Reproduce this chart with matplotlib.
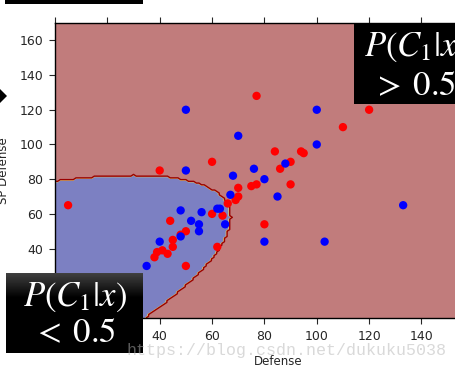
import numpy as np
import matplotlib
matplotlib.use("Agg")
import matplotlib.pyplot as plt
from matplotlib.patches import Rectangle, Polygon

plt.rcParams['mathtext.fontset'] = 'stix'

# ---- data (Defense, SP Defense) ----
red_def = [5, 40, 60, 77, 120, 110, 84, 94, 95, 90, 86, 90, 70, 75, 77, 70, 69, 66,
           60, 64, 62, 80, 44, 50, 48, 45, 45, 41, 43, 39, 38, 50]
red_spdef = [65, 85, 90, 128, 120, 110, 96, 96, 95, 90, 86, 77, 75, 76, 77, 70, 68, 66,
             60, 59, 41, 54, 56, 50, 48, 45, 41, 39, 37, 38, 35, 30]
blue_def = [50, 70, 100, 100, 50, 68, 76, 88, 80, 85, 67, 63, 62, 56, 48, 52, 55, 55,
            65, 48, 40, 35, 133, 80, 103]
blue_spdef = [120, 105, 120, 100, 85, 82, 86, 89, 80, 70, 71, 63, 63, 61, 62, 56, 54, 50,
              54, 47, 44, 30, 65, 44, 44]

# quadratic decision boundary parameters (P(C1|x) = 0.5)
bnd_center = (-118.0, -38.0)
bnd_scale = (185.0, 120.0)
bnd_corr = 0.8

xticks = [0, 20, 40, 60, 80, 100, 120, 140, 160]
yticks = [0, 20, 40, 60, 80, 100, 120, 140, 160]

W, H = 456, 371
def fx(x):
    return x / W
def fy(y):
    return 1 - y / H

fig = plt.figure(figsize=(W / 100, H / 100), dpi=100)
ax = fig.add_axes([fx(55), fy(318), 445 / W, 295 / H])

xx, yy = np.meshgrid(np.arange(0, 171, 1.0), np.arange(0, 171, 1.0))
u = (xx - bnd_center[0]) / bnd_scale[0]
v = (yy - bnd_center[1]) / bnd_scale[1]
g = u ** 2 - 2 * bnd_corr * u * v + v ** 2 - (1 - bnd_corr ** 2)
Z = (g > 0).astype(float)
ax.contourf(xx, yy, Z, levels=[-0.5, 0.5, 1.5], colors=['#7c80c2', '#c17c7c'])
ax.contour(xx, yy, Z, levels=[0.35], colors=['#d8d070'], linewidths=0.6)
ax.contour(xx, yy, Z, levels=[0.75], colors=['#9a0000'], linewidths=1.0)

ax.scatter(red_def, red_spdef, s=36, c='#ff0000', edgecolors='none', zorder=3)
ax.scatter(blue_def, blue_spdef, s=36, c='#0000ff', edgecolors='none', zorder=3)

ax.set_xlim(0, 170)
ax.set_ylim(0, 170)
ax.set_xticks(xticks)
ax.set_yticks(yticks)
ax.tick_params(direction='out', length=4.5, width=0.8, pad=4, labelsize=9,
               top=True, right=True, colors='#262626')
for sp in ax.spines.values():
    sp.set_linewidth(1.0)
ax.set_xlabel('Defense', fontsize=8.5, color='#262626')
ax.set_ylabel('SP Defense', fontsize=8.5, color='#262626')
ax.xaxis.set_label_coords((278 - 55) / 445, -(355 - 318) / 295)
ax.yaxis.set_label_coords((10 - 55) / 445, 0.5)

# ---- slide overlays ----
# top-left box (only its lower edge visible)
fig.patches.append(Rectangle((fx(5), fy(3.5)), 138 / W, 20 / H, transform=fig.transFigure,
                             facecolor='black', edgecolor='none', zorder=10))
# small black arrow at left
fig.patches.append(Polygon([(fx(0), fy(89)), (fx(7), fy(96)), (fx(0), fy(103))],
                           closed=True, transform=fig.transFigure,
                           facecolor='black', edgecolor='none', zorder=10))

# top-right box
fig.patches.append(Rectangle((fx(354), fy(104)), 130 / W, 81 / H, transform=fig.transFigure,
                             facecolor='black', edgecolor='none', zorder=10))
fig.text(fx(416), fy(56), r'$P(C_1|x)$', color='white', fontsize=25,
         ha='center', va='baseline', zorder=11)
fig.text(fx(414), fy(95), r'$>\;0.5$', color='white', fontsize=25,
         ha='center', va='baseline', zorder=11)

# bottom-left box with slight gradient on top
bax = fig.add_axes([fx(6), fy(353), 137 / W, 80 / H], zorder=10)
grad = np.concatenate([np.linspace(0.25, 0.0, 25), np.zeros(55)])[:, None]
bax.imshow(grad, cmap='gray', vmin=0, vmax=1, aspect='auto', extent=[0, 1, 0, 1])
bax.set_axis_off()
fig.text(fx(74.5), fy(306), r'$P(C_1|x)$', color='white', fontsize=25,
         ha='center', va='baseline', zorder=12)
fig.text(fx(74.5), fy(342), r'$<\;0.5$', color='white', fontsize=25,
         ha='center', va='baseline', zorder=12)

# watermark
fig.text(fx(127), fy(350), 'https://blog.csdn.net/dukuku5038', color='#b4b4b4', alpha=0.5,
         fontsize=12, family='Liberation Mono', ha='left', va='center', zorder=20)

fig.savefig('out.png', dpi=100)
